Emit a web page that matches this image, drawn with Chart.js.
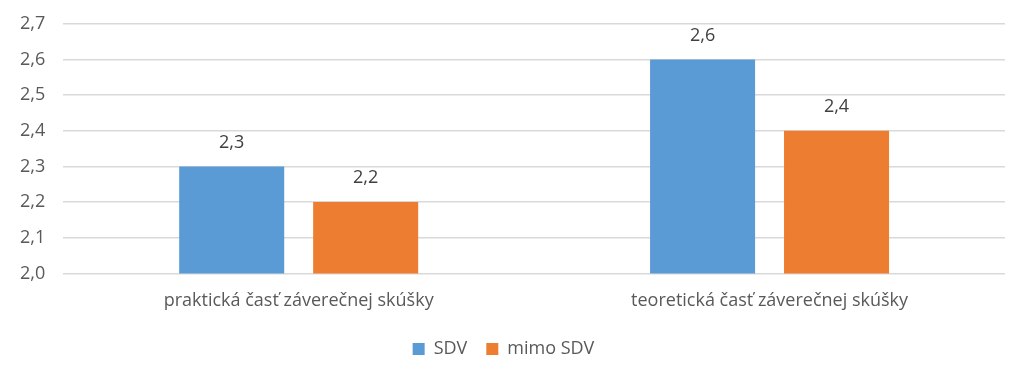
<!DOCTYPE html>
<html>
<head>
<meta charset="utf-8">
<script src="https://cdn.jsdelivr.net/npm/chart.js@4/dist/chart.umd.min.js"></script>
<style>
  html, body { margin: 0; padding: 0; background: #fff; overflow: hidden; }
  #wrap { width: 1024px; height: 375px; overflow: hidden; }
  #chart { display: block; margin-top: -5px; }
</style>
</head>
<body>
<div id="wrap"><canvas id="chart" width="1024" height="380"></canvas></div>
<script>
  const categories = ['praktická časť záverečnej skúšky', 'teoretická časť záverečnej skúšky'];
  const sdvValues = [2.3, 2.6];
  const mimoValues = [2.2, 2.4];
  const seriesNames = ['SDV', 'mimo SDV'];

  const fmt = v => Number(v).toFixed(1).replace('.', ',');
  const FONT = "'Open Sans', 'Liberation Sans', sans-serif";

  // draw the value above each bar
  const barLabels = {
    id: 'barLabels',
    afterDatasetsDraw(chart) {
      const ctx = chart.ctx;
      ctx.save();
      ctx.font = '18px ' + FONT;
      ctx.fillStyle = '#404040';
      ctx.textAlign = 'center';
      ctx.textBaseline = 'middle';
      chart.data.datasets.forEach((ds, i) => {
        chart.getDatasetMeta(i).data.forEach((bar, j) => {
          ctx.fillText(fmt(ds.data[j]), bar.x, bar.y - 24);
        });
      });
      ctx.restore();
    }
  };

  new Chart(document.getElementById('chart'), {
    type: 'bar',
    data: {
      labels: categories,
      datasets: [
        { label: seriesNames[0], data: sdvValues, backgroundColor: '#5B9BD5' },
        { label: seriesNames[1], data: mimoValues, backgroundColor: '#ED7D31' }
      ]
    },
    options: {
      responsive: false,
      animation: false,
      layout: { padding: { top: 0, right: 19, left: 2, bottom: 7 } },
      datasets: { bar: { categoryPercentage: 0.569, barPercentage: 0.784 } },
      plugins: {
        legend: {
          position: 'bottom',
          labels: {
            boxWidth: 12, boxHeight: 12, padding: 19,
            color: '#595959', font: { family: FONT, size: 18 }
          }
        },
        tooltip: { enabled: false }
      },
      scales: {
        x: {
          grid: { display: false },
          border: { display: false },
          ticks: { color: '#595959', padding: 9, font: { family: FONT, size: 18 } }
        },
        y: {
          min: 2.0, max: 2.7,
          border: { display: false },
          grid: { color: '#d9d9d9', lineWidth: 1.5, drawTicks: false },
          ticks: {
            stepSize: 0.1, padding: 18, color: '#595959',
            font: { family: FONT, size: 18 },
            callback: v => fmt(v)
          }
        }
      }
    },
    plugins: [barLabels]
  });
</script>
</body>
</html>
